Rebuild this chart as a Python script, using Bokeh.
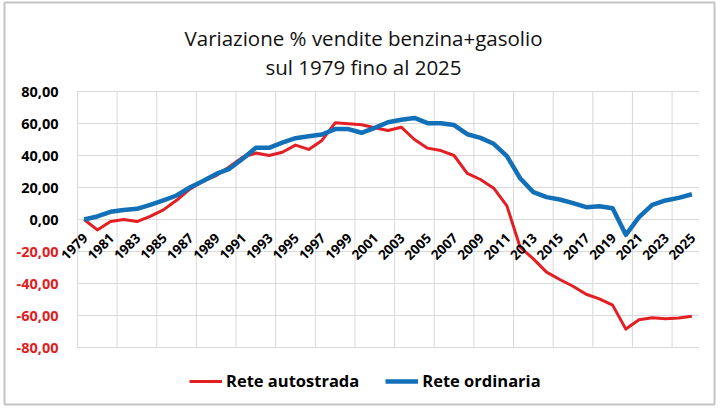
from bokeh.plotting import figure
from bokeh.models import (ColumnDataSource, LabelSet, Label, Legend, LegendItem,
                          Range1d, BoxAnnotation)
from bokeh.embed import file_html
from bokeh.resources import INLINE
from bokeh.core.properties import value

# ---------------- data ----------------
years = list(range(1979, 2026))
rete_autostrada = [0, -6.5, -1.3, 0, -1.3, 2, 6, 12, 19, 24,
                   27.5, 33, 39, 41.5, 40, 42, 46.5, 43.8, 49.4, 60.4,
                   59.8, 59.2, 57.3, 55.6, 57.7, 50, 44.6, 43.1, 40, 28.8,
                   25, 19.6, 8.5, -17.3, -24.6, -32.9, -37.5, -41.7, -46.7, -49.6,
                   -53.5, -68.5, -62.7, -61.4, -62, -61.5, -60.4]
rete_ordinaria = [0, 1.9, 4.8, 6, 6.7, 9.2, 12, 15, 20, 24,
                  28.5, 31.7, 38, 44.8, 44.8, 48, 50.8, 52, 53.1, 56.5,
                  56.5, 54.2, 57.3, 60.8, 62.3, 63.5, 60.2, 60.2, 59, 53.3,
                  51, 47.3, 39.6, 25.8, 17.1, 14, 12.5, 10.2, 7.7, 8.3,
                  7.0, -9.6, 1.5, 9.2, 11.9, 13.5, 15.8]
x_tick_years = list(range(1979, 2026, 2))
x_tick_labels = [str(y) for y in x_tick_years]
y_tick_values = [80, 60, 40, 20, 0, -20, -40, -60, -80]
y_tick_labels = ["80,00", "60,00", "40,00", "20,00", "0,00",
                 "-20,00", "-40,00", "-60,00", "-80,00"]
title_lines = ["Variazione % vendite benzina+gasolio", "sul 1979 fino al 2025"]
series_names = ["Rete autostrada", "Rete ordinaria"]

# ---------------- style / layout ----------------
RED = "#e31e24"
BLUE = "#1170b8"
NEG_RED = "#e0201e"
GRID = "#d9d9d9"
FONT = "Open Sans"

W, H = 716, 406
# plot area in pixels: x 77..698, y 91..347
PL, PR, PT, PB = 77, 698, 91, 347
CAT0, CAT1 = 1978.5, 2025.5
YMIN, YMAX = -80, 80
PXX = (PR - PL) / (CAT1 - CAT0)
PXY = (PB - PT) / (YMAX - YMIN)


def dx(px):
    return CAT0 + (px - PL) / PXX


def dy(py):
    return YMAX - (py - PT) / PXY


p = figure(width=W, height=H, output_backend="svg", toolbar_location=None,
           x_range=Range1d(dx(0), dx(W)), y_range=Range1d(dy(H), dy(0)),
           x_axis_type=None, y_axis_type=None,
           min_border=0, min_border_left=0, min_border_right=0,
           min_border_top=0, min_border_bottom=0,
           background_fill_color="white", border_fill_color="white",
           outline_line_color=None)
p.grid.visible = False

# gridlines (vertical every 3 categories, horizontal at y ticks)
vgrid = [CAT0 + 3 * k for k in range(16)]
p.multi_line(xs=[[g, g] for g in vgrid], ys=[[YMIN, YMAX]] * len(vgrid),
             line_color=GRID, line_width=1)
p.multi_line(xs=[[CAT0, CAT1]] * len(y_tick_values), ys=[[v, v] for v in y_tick_values],
             line_color=GRID, line_width=1)

src = ColumnDataSource(dict(year=years, autostrada=rete_autostrada,
                            ordinaria=rete_ordinaria))
r_red = p.line("year", "autostrada", source=src, line_color=RED,
               line_width=3, line_join="round")
r_blue = p.line("year", "ordinaria", source=src, line_color=BLUE,
                line_width=4.5, line_join="round")

# x tick labels (axis crossing at 0)
xsrc = ColumnDataSource(dict(x=x_tick_years, y=[0] * len(x_tick_years),
                             text=x_tick_labels))
p.add_layout(LabelSet(x="x", y="y", text="text", source=xsrc,
                      angle=45, angle_units="deg", text_align="right",
                      text_baseline="middle", x_offset=1, y_offset=-16,
                      text_font=value(FONT), text_font_style="bold",
                      text_font_size="13.5px", text_color="black"))

# y tick labels (negative in red)
ysrc = ColumnDataSource(dict(x=[CAT0] * len(y_tick_values), y=y_tick_values,
                             text=y_tick_labels,
                             color=[NEG_RED if v < 0 else "black" for v in y_tick_values]))
p.add_layout(LabelSet(x="x", y="y", text="text", source=ysrc,
                      text_align="right", text_baseline="middle", x_offset=-19,
                      text_font=value(FONT), text_font_style="bold",
                      text_font_size="14.5px", text_color="color"))

# title
for i, line in enumerate(title_lines):
    p.add_layout(Label(x=dx(363), y=dy(37 + 29 * i), text=line,
                       text_align="center", text_baseline="alphabetic",
                       text_font=FONT, text_font_size="20.5px",
                       text_color="#111111"))

# legend
legend = Legend(items=[LegendItem(label=series_names[0], renderers=[r_red]),
                       LegendItem(label=series_names[1], renderers=[r_blue])],
                orientation="horizontal", location=(189, 14),
                padding=0, margin=0, spacing=26, label_standoff=4,
                glyph_width=33, glyph_height=20, label_height=20,
                label_text_font=FONT, label_text_font_style="bold",
                label_text_font_size="16.5px", label_text_color="black",
                border_line_color=None, background_fill_alpha=0)
p.add_layout(legend)

# outer chart border
p.add_layout(BoxAnnotation(left=dx(4), right=dx(714), top=dy(2), bottom=dy(404),
                           fill_alpha=0, line_color="#3a3a3a", line_width=2))

open("out.html", "w").write(file_html(p, INLINE))
